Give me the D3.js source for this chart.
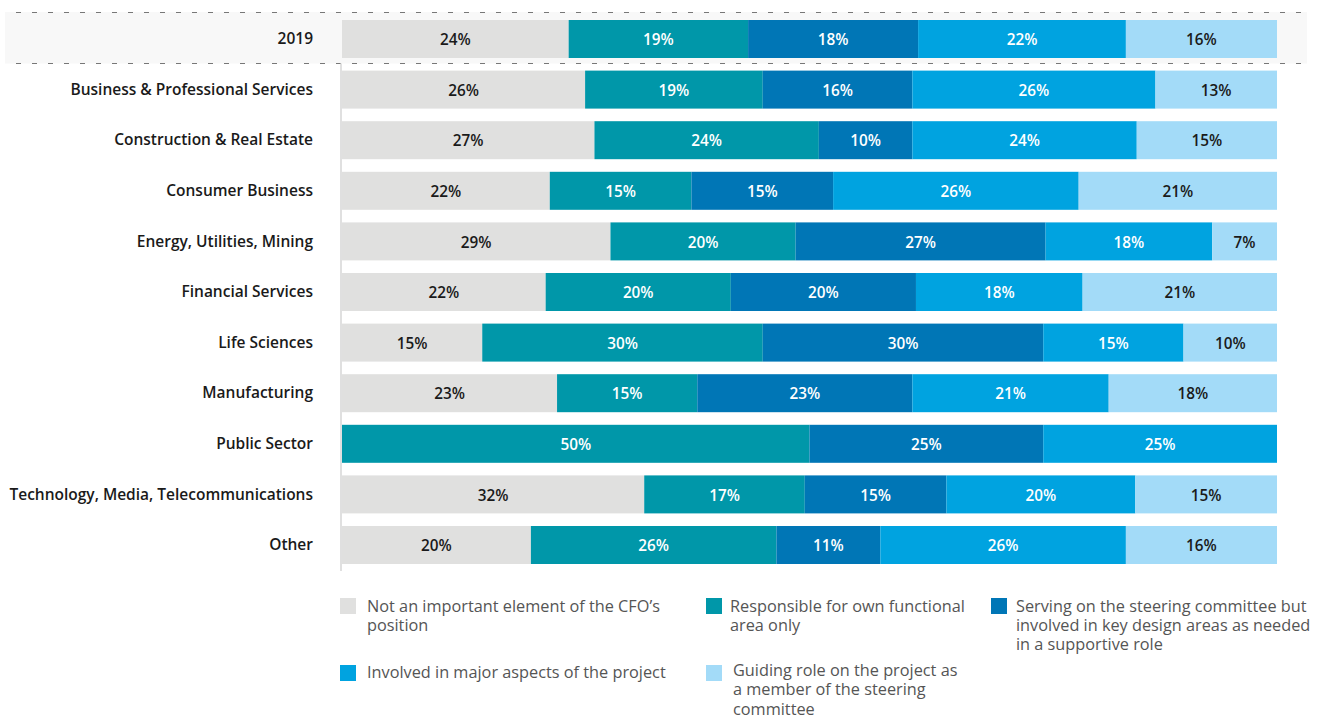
<!DOCTYPE html>
<html>
<head>
<meta charset="utf-8">
<script src="https://cdn.jsdelivr.net/npm/d3@7/dist/d3.min.js"></script>
<style>
  html, body { margin: 0; padding: 0; background: #ffffff; }
  svg { display: block; }
  text { font-family: "Open Sans", "Noto Sans", sans-serif; }
</style>
</head>
<body>
<svg id="chart" width="1323" height="719"></svg>
<script>
// ---------- DATA ----------
const categories = [
  "2019",
  "Business & Professional Services",
  "Construction & Real Estate",
  "Consumer Business",
  "Energy, Utilities, Mining",
  "Financial Services",
  "Life Sciences",
  "Manufacturing",
  "Public Sector",
  "Technology, Media, Telecommunications",
  "Other"
];

const seriesNames = [
  "Not an important element of the CFO’s position",
  "Responsible for own functional area only",
  "Serving on the steering committee but involved in key design areas as needed in a supportive role",
  "Involved in major aspects of the project",
  "Guiding role on the project as a member of the steering committee"
];

const notImportant   = [24, 26, 27, 22, 29, 22, 15, 23,  0, 32, 20];
const ownArea        = [19, 19, 24, 15, 20, 20, 30, 15, 50, 17, 26];
const steeringRole   = [18, 16, 10, 15, 27, 20, 30, 23, 25, 15, 11];
const majorAspects   = [22, 26, 24, 26, 18, 18, 15, 21, 25, 20, 26];
const guidingRole    = [16, 13, 15, 21,  7, 21, 10, 18,  0, 15, 16];

const legendLines = [
  ["Not an important element of the CFO’s", "position"],
  ["Responsible for own functional", "area only"],
  ["Serving on the steering committee but", "involved in key design areas as needed", "in a supportive role"],
  ["Involved in major aspects of the project"],
  ["Guiding role on the project as", "a member of the steering", "committee"]
];

const colors = ["#e0e0df", "#0097a9", "#0076b6", "#00a3e0", "#a3dbf8"];
const labelColors = ["#1a1a1a", "#ffffff", "#ffffff", "#ffffff", "#1a1a1a"];

// ---------- BUILD ----------
const seriesValues = [notImportant, ownArea, steeringRole, majorAspects, guidingRole];
const keys = d3.range(seriesValues.length);
const rows = categories.map((c, i) => {
  const row = { category: c };
  const total = d3.sum(seriesValues, s => s[i]);
  keys.forEach(k => { row[k] = seriesValues[k][i] / total; row["v" + k] = seriesValues[k][i]; });
  return row;
});

const svg = d3.select("#chart");

const x = d3.scaleLinear().domain([0, 1]).range([342, 1277]);
const y = d3.scaleBand().domain(categories).range([20, 564]).paddingInner(0.249).paddingOuter(0);

// highlight band for 2019
const bandTop = y("2019") - 8, bandBot = y("2019") + y.bandwidth() + 5.5;
svg.append("rect")
  .attr("x", 5).attr("y", bandTop)
  .attr("width", 1302).attr("height", bandBot - bandTop)
  .attr("fill", "#f8f8f8");
[bandTop + 0.5, bandBot].forEach(yy => {
  svg.append("line")
    .attr("x1", 5).attr("x2", 1307).attr("y1", yy).attr("y2", yy)
    .attr("stroke", "#777").attr("stroke-width", 1)
    .attr("stroke-dasharray", "5,11").attr("stroke-dashoffset", 5);
});

// axis line
svg.append("line")
  .attr("x1", 341).attr("x2", 341)
  .attr("y1", bandBot).attr("y2", 571)
  .attr("stroke", "#e0e0e0").attr("stroke-width", 2);

// stacked bars
const stack = d3.stack().keys(keys);
const stacked = stack(rows);

const layers = svg.append("g").selectAll("g")
  .data(stacked).join("g")
  .attr("fill", d => colors[d.key]);

layers.selectAll("rect")
  .data(d => d)
  .join("rect")
  .attr("x", d => x(d[0]))
  .attr("y", d => y(d.data.category))
  .attr("width", d => Math.max(0, x(d[1]) - x(d[0])))
  .attr("height", y.bandwidth());

// value labels
const labelG = svg.append("g");
stacked.forEach(layer => {
  layer.forEach(d => {
    const v = d.data["v" + layer.key];
    if (!v) return;
    labelG.append("text")
      .attr("x", (x(d[0]) + x(d[1])) / 2)
      .attr("y", y(d.data.category) + y.bandwidth() / 2)
      .attr("dy", "0.4em")
      .attr("text-anchor", "middle")
      .attr("font-size", "15.3px")
      .attr("font-weight", 600)
      .attr("fill", labelColors[layer.key])
      .text(v + "%");
  });
});

// category axis labels
const yAxis = d3.axisLeft(y).tickSize(0).tickPadding(0);
const yg = svg.append("g").attr("transform", "translate(313,0)").call(yAxis);
yg.select(".domain").remove();
yg.selectAll("text")
  .attr("font-family", "'Open Sans', sans-serif")
  .attr("font-size", "15.5px")
  .attr("font-weight", 600)
  .attr("fill", "#1a1a1a")
  .attr("dy", "0.33em");

// legend
const legendPos = [
  { sx: 340, tx: 367, sy: 598, ty: 611.5 },
  { sx: 706, tx: 730, sy: 598, ty: 611.5 },
  { sx: 991, tx: 1016, sy: 598, ty: 611.5 },
  { sx: 340, tx: 367, sy: 665, ty: 678 },
  { sx: 706, tx: 733, sy: 665, ty: 676 }
];
const lg = svg.append("g");
keys.forEach(k => {
  const p = legendPos[k];
  lg.append("rect")
    .attr("x", p.sx).attr("y", p.sy)
    .attr("width", 16).attr("height", 16)
    .attr("fill", colors[k]);
  const t = lg.append("text")
    .attr("x", p.tx).attr("y", p.ty)
    .attr("font-size", "16.3px")
    .attr("fill", "#555");
  legendLines[k].forEach((line, i) => {
    t.append("tspan").attr("x", p.tx).attr("y", p.ty + i * 19.3).text(line);
  });
});
</script>
</body>
</html>
